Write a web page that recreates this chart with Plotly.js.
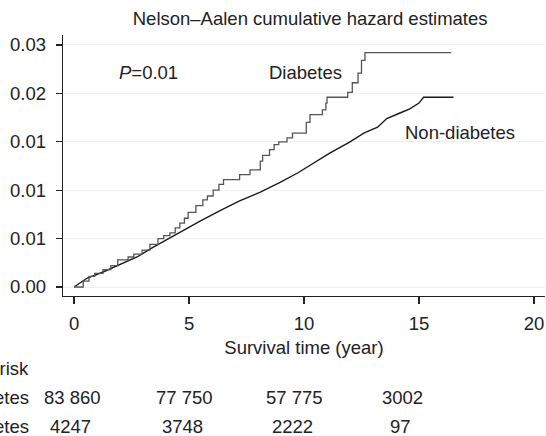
<!DOCTYPE html>
<html>
<head>
<meta charset="utf-8">
<script src="https://cdn.plot.ly/plotly-3.0.1.min.js"></script>
<style>html,body{margin:0;padding:0;background:#fff;}#chart{width:546px;height:436px;}</style>
</head>
<body>
<div id="chart"></div>
<script>
// Diabetes: Nelson-Aalen step function (time of jump, cumulative hazard)
var diabTime = [0, 0.4, 0.65, 0.9, 1.26, 1.6, 1.9, 2.35, 2.6, 2.96, 3.3, 3.65, 3.9, 4.17, 4.4, 4.6, 4.8, 4.96, 5.3, 5.6, 5.8, 6.05, 6.3, 6.5, 7.2, 7.65, 8.1, 8.2, 8.5, 8.7, 8.9, 9.26, 9.5, 10.1, 10.26, 10.8, 10.95, 11.0, 11.9, 12.1, 12.35, 12.5, 12.65, 16.4];
var diabHaz  = [0, 0.0006, 0.0011, 0.0014, 0.0018, 0.0022, 0.0028, 0.0031, 0.0034, 0.0038, 0.0044, 0.0050, 0.0053, 0.0056, 0.0061, 0.0066, 0.0071, 0.0077, 0.0084, 0.0090, 0.0094, 0.0100, 0.0106, 0.0111, 0.0116, 0.0121, 0.0130, 0.0136, 0.0142, 0.0147, 0.0150, 0.0154, 0.0159, 0.0170, 0.0178, 0.0183, 0.0190, 0.0196, 0.0201, 0.0211, 0.0221, 0.0234, 0.0242, 0.0242];
// Non-diabetes
var nonTime = [0, 0.56, 1.26, 2.0, 2.74, 3.43, 4.17, 4.96, 5.48, 6.35, 7.2, 8.1, 8.96, 9.74, 10.26, 11.1, 12.0, 12.6, 13.2, 13.6, 14.2, 14.6, 15.0, 15.2, 16.5];
var nonHaz  = [0, 0.0009, 0.00155, 0.0023, 0.0031, 0.0041, 0.0051, 0.0061, 0.0068, 0.0079, 0.0089, 0.0098, 0.0108, 0.0118, 0.0126, 0.0138, 0.0150, 0.0159, 0.0165, 0.0174, 0.0180, 0.0184, 0.0190, 0.0196, 0.0196];

var yTickVals = [0, 0.005, 0.01, 0.015, 0.02, 0.025];
var yTickText = ["0.00", "0.01", "0.01", "0.01", "0.02", "0.03"];
var xTickVals = [0, 5, 10, 15, 20];

var riskTimes = [0, 5, 10, 15];
var riskNon = ["83 860", "77 750", "57 775", "3002"];
var riskDiab = ["4247", "3748", "2222", "97"];
var riskLabels = ["Number at risk", "Non-diabetes", "Diabetes"];

var FONT = "Liberation Sans, Arial, Helvetica, sans-serif";
var TXT = "#222";
var FS = 18.5;

var traces = [
  {x: nonTime, y: nonHaz, mode: "lines", line: {color: "#1a1a1a", width: 1.4}, hoverinfo: "skip"},
  {x: diabTime, y: diabHaz, mode: "lines", line: {color: "#555555", width: 1.3, shape: "hv"}, hoverinfo: "skip"}
];

var ann = [];
ann.push({text: "<i>P</i>=0.01", xref: "paper", yref: "paper", x: 0.112, y: 0.857, xanchor: "left", yanchor: "middle", showarrow: false, font: {family: FONT, size: FS, color: TXT}});
ann.push({text: "Diabetes", xref: "x", yref: "paper", x: 8.4, y: 0.857, xanchor: "left", yanchor: "middle", showarrow: false, font: {family: FONT, size: FS, color: TXT}});
ann.push({text: "Non-diabetes", xref: "x", yref: "paper", x: 14.3, y: 0.627, xanchor: "left", yanchor: "middle", showarrow: false, font: {family: FONT, size: FS, color: TXT}});

var rowY = [368, 397, 426];
function py(p){ return 1 - (p - 35) / (296 - 35); }
// row labels (right-aligned, partially clipped at the left edge as in the original)
for (var i = 0; i < riskLabels.length; i++) {
  ann.push({text: riskLabels[i], xref: "paper", yref: "paper", x: (31 - 63) / (545 - 63), y: py(rowY[i]), xanchor: "right", yanchor: "middle", showarrow: false, font: {family: FONT, size: FS, color: TXT}});
}
var shifts = [-2, -5, -10, -16];
for (var j = 0; j < riskTimes.length; j++) {
  ann.push({text: riskNon[j], xref: "x", yref: "paper", x: riskTimes[j], xshift: shifts[j], y: py(rowY[1]), xanchor: "center", yanchor: "middle", showarrow: false, font: {family: FONT, size: FS, color: TXT}});
  ann.push({text: riskDiab[j], xref: "x", yref: "paper", x: riskTimes[j], xshift: shifts[j] - 2, y: py(rowY[2]), xanchor: "center", yanchor: "middle", showarrow: false, font: {family: FONT, size: FS, color: TXT}});
}

var layout = {
  width: 546, height: 436,
  margin: {l: 63, r: 1, t: 35, b: 140, pad: 0},
  paper_bgcolor: "#fff", plot_bgcolor: "#fff",
  showlegend: false,
  title: {text: "Nelson\u2013Aalen cumulative hazard estimates", x: 0.568, xanchor: "center", y: 0.958, yanchor: "middle", font: {family: FONT, size: 18.5, color: TXT}},
  xaxis: {
    range: [-0.48, 20.48], tickvals: xTickVals, ticks: "outside", ticklen: 7, tickcolor: "#222", tickwidth: 1.3,
    showline: true, linecolor: "#222", linewidth: 1.3, showgrid: false, zeroline: false,
    ticklabelstandoff: 3,
    tickfont: {family: FONT, size: FS, color: TXT},
    title: {text: "Survival time (year)", font: {family: FONT, size: FS, color: TXT}, standoff: 8}
  },
  yaxis: {
    range: [-0.00093, 0.02603], tickvals: yTickVals, ticktext: yTickText, ticks: "outside", ticklen: 6, tickcolor: "#222", tickwidth: 1.3,
    showline: true, linecolor: "#222", linewidth: 1.3, showgrid: true, gridcolor: "#f0f0f0", gridwidth: 1, zeroline: false,
    ticklabelstandoff: 6,
    tickfont: {family: FONT, size: FS, color: TXT}
  },
  annotations: ann
};

Plotly.newPlot("chart", traces, layout, {displayModeBar: false, staticPlot: true});
</script>
</body>
</html>
